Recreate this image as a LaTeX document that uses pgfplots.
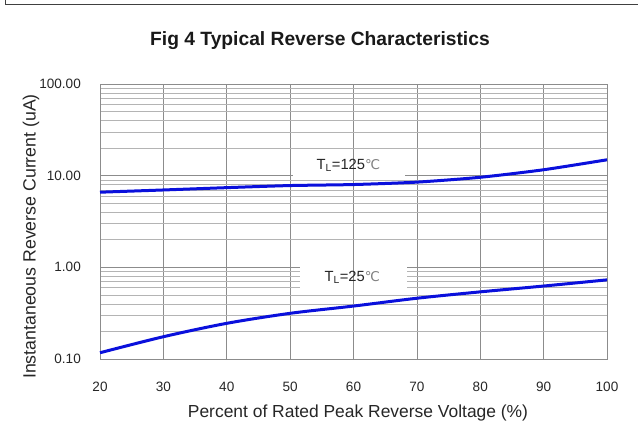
\documentclass[border=0pt]{standalone}
\usepackage{pgfplots}
\pgfplotsset{compat=1.18}
\usepackage{fontspec}
\setmainfont{Liberation Sans}
\newfontfamily\dejavu{DejaVu Sans}
\definecolor{curveblue}{HTML}{0A10DC}
\definecolor{majgrid}{HTML}{8C8C8C}
\definecolor{mingrid}{HTML}{B4B4B4}
\begin{document}
\begin{tikzpicture}[x=1bp,y=1bp]
\useasboundingbox (0,0) rectangle (638,435);
\draw[line width=1.6bp,black!75] (5.5,435) -- (5.5,430.5) -- (638,430.5);
\begin{axis}[
  at={(100bp,76bp)}, anchor=south west,
  scale only axis, width=507bp, height=275bp,
  xmin=20, xmax=100, ymin=0.1, ymax=100,
  ymode=log,
  xtick={20,30,...,100},
  xticklabels={20,30,40,50,60,70,80,90,100},
  ytick={0.1,1,10,100},
  yticklabels={0.10,1.00,10.00,100.00},
  minor ytick={0.2,0.3,0.4,0.5,0.6,0.7,0.8,0.9,2,3,4,5,6,7,8,9,20,30,40,50,60,70,80,90},
  grid=both,
  major grid style={majgrid, line width=0.6bp},
  minor grid style={mingrid, line width=0.6bp},
  axis line style={majgrid, line width=0.8bp},
  major tick length=0pt, minor tick length=0pt,
  tick label style={font=\fontsize{13.6}{16}\selectfont, inner sep=0pt, black!85},
  xticklabel style={anchor=north, yshift=-23bp},
  yticklabel style={anchor=east, xshift=-19bp},
  /pgf/number format/assume math mode=true,
  clip=false,
]
\fill[white] (axis cs:50.5,9.45) rectangle (axis cs:68.1,19);
\fill[white] (axis cs:51.6,0.56) rectangle (axis cs:68.4,1.15);
\draw[majgrid, line width=0.6bp] (axis cs:60,9.45) -- (axis cs:60,19);
\draw[majgrid, line width=0.6bp] (axis cs:60,0.56) -- (axis cs:60,1.15);
\addplot[curveblue, line width=3bp, smooth, tension=0.4] coordinates {
(20,6.6) (30,6.98) (40,7.4) (50,7.8) (60,8.0) (70,8.5) (80,9.6) (90,11.6) (100,14.9)};
\addplot[curveblue, line width=3bp, smooth, tension=0.5] coordinates {
(20,0.117) (30,0.175) (40,0.245) (50,0.315) (60,0.378) (70,0.46) (80,0.54) (90,0.625) (100,0.73)};
\node[font=\fontsize{14.8}{17}\selectfont, inner sep=0pt, black!85] at (axis cs:59.2,12.9) {T\textsubscript{L}=125{\dejavu\color{gray}\fontsize{13.5}{16}\selectfont ℃}};
\node[font=\fontsize{14.8}{17}\selectfont, inner sep=0pt, black!85] at (axis cs:59.8,0.775) {T\textsubscript{L}=25{\dejavu\color{gray}\fontsize{13.5}{16}\selectfont ℃}};
\end{axis}
\node[font=\bfseries\fontsize{19.3}{23}\selectfont, black!90] at (320,394.5) {Fig 4 Typical Reverse Characteristics};
\node[font=\fontsize{17.5}{21}\selectfont, black!85] at (358,22) {Percent of Rated Peak Reverse Voltage (\%)};
\node[font=\fontsize{17.8}{21}\selectfont, black!85, rotate=90] at (31,198.5) {Instantaneous Reverse Current (uA)};
\end{tikzpicture}
\end{document}
